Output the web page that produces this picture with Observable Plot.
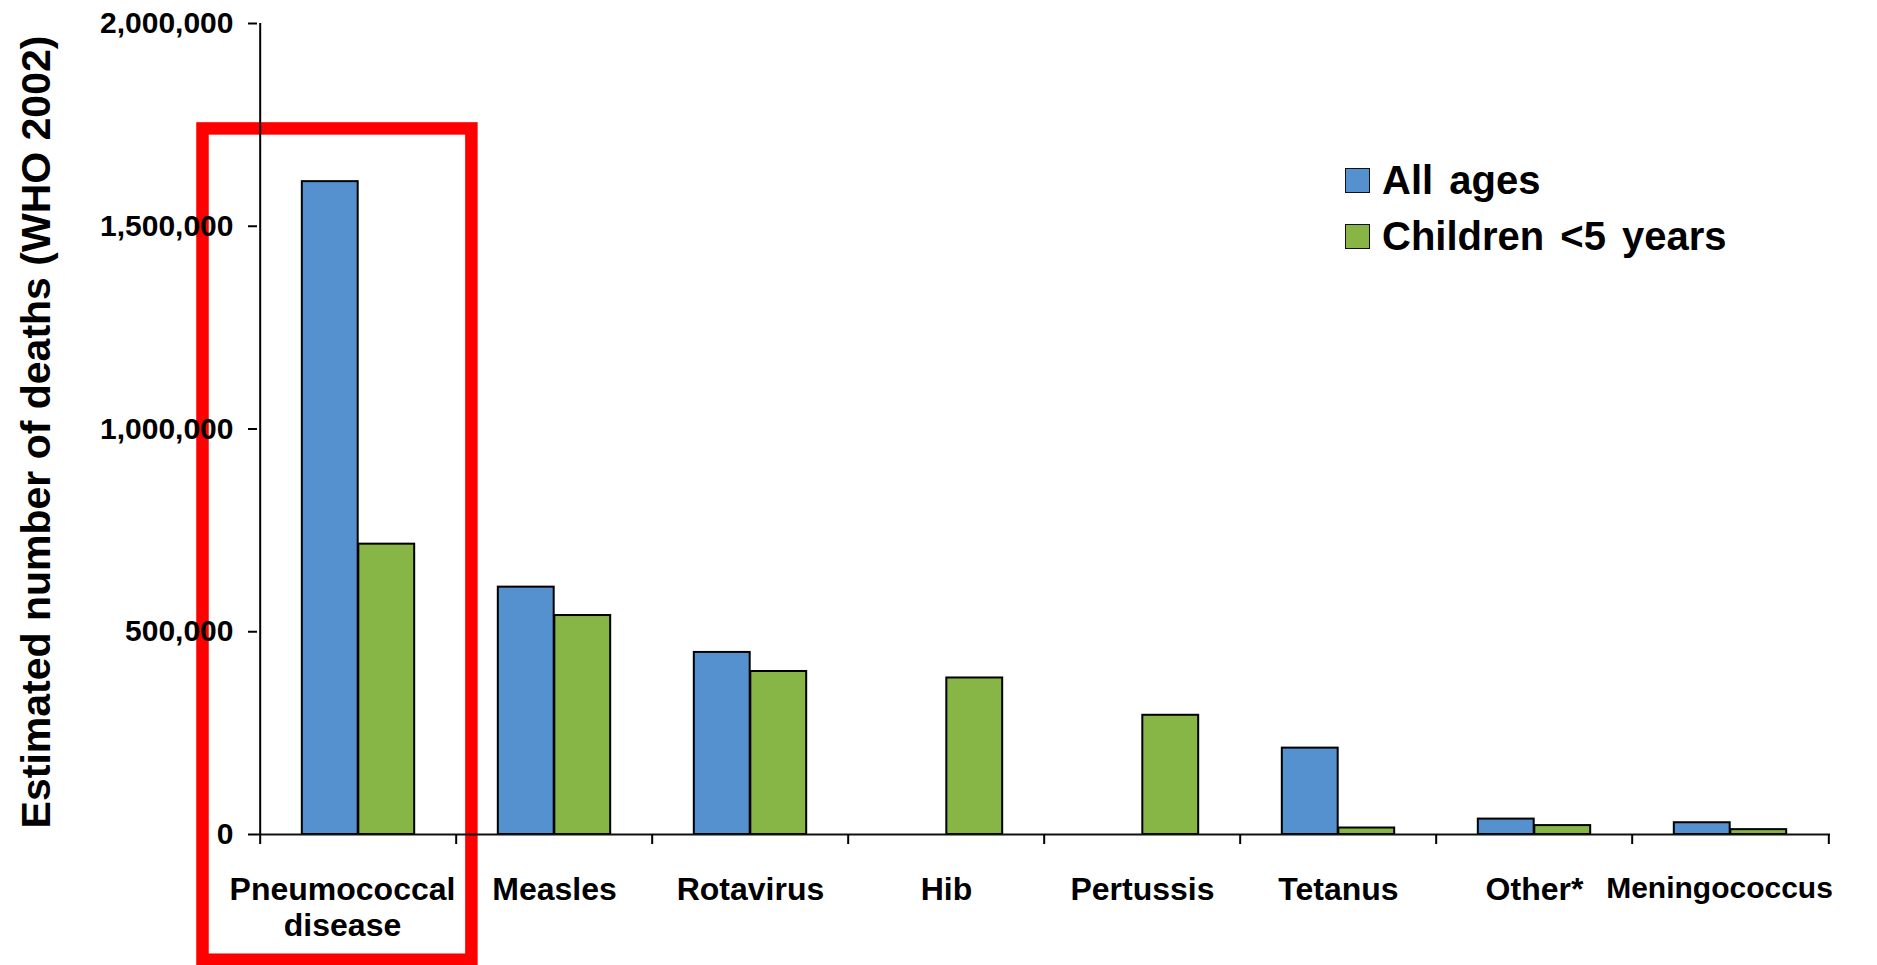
<!DOCTYPE html>
<html>
<head>
<meta charset="utf-8">
<script src="https://cdn.jsdelivr.net/npm/d3@7"></script>
<script src="https://cdn.jsdelivr.net/npm/@observablehq/plot@0.6"></script>
<style>
  html, body { margin: 0; padding: 0; background: #fff; }
  #chart { position: relative; width: 1877px; height: 965px; font-family: "Liberation Sans", Arial, sans-serif; }
  .legend { position: absolute; left: 1345px; top: 152px; }
  .legend .row { display: flex; align-items: center; height: 56px; }
  .legend .sw { width: 23px; height: 23px; border: 1.5px solid #111; margin-right: 12px; box-sizing: content-box; }
  .legend .lb { font-size: 40px; font-weight: bold; color: #000; white-space: nowrap; word-spacing: 5px; }
</style>
</head>
<body>
<div id="chart"></div>
<script>
// Vaccine-preventable deaths, WHO 2002 estimates
const categories = ["Pneumococcal disease", "Measles", "Rotavirus", "Hib", "Pertussis", "Tetanus", "Other*", "Meningococcus"];
const tickLabels = ["Pneumococcal\ndisease", "Measles", "Rotavirus", "Hib", "Pertussis", "Tetanus", "Other*", "Meningococcus"];
const series = ["All ages", "Children <5 years"];
const allAges = [1610000, 610000, 449000, null, null, 213000, 38000, 29000];
const childrenUnder5 = [716000, 540000, 402000, 386000, 294000, 16000, 22000, 12000];
const seriesColors = ["#5590cf", "#87b546"];
const yTicks = [0, 500000, 1000000, 1500000, 2000000];

const rows = categories.flatMap((category, i) => [
  {category, series: series[0], value: allAges[i]},
  {category, series: series[1], value: childrenUnder5[i]}
]).filter(d => d.value != null);

// Highlight frame around the first category (extent in data units)
const highlight = [{category: categories[0], from: -310000, to: 1740000}];

const W = 1877, H = 965;
const marginLeft = 257, marginRight = 47, marginTop = 23, marginBottom = 131;
const bw = (W - marginLeft - marginRight) / categories.length; // band width
const barW = 56.5;
const half = bw / 2;
const fmt = d3.format(",");
const label = d => tickLabels[categories.indexOf(d)];
const first = categories[0];
const last = categories[categories.length - 1];
const middle = categories.slice(1, -1);

const xLabelStyle = {tickSize: 0, tickPadding: 39, tickFormat: label, lineHeight: 1.15, label: null};

const chart = Plot.plot({
  width: W,
  height: H,
  marginLeft, marginRight, marginTop, marginBottom,
  style: {fontFamily: "'Liberation Sans', Arial, sans-serif", fontWeight: "bold", fontSize: "30px", color: "#000", background: "#fff"},
  x: {type: "band", domain: categories, padding: 0, label: null},
  y: {domain: [0, 2000000], label: null},
  color: {domain: series, range: seriesColors},
  marks: [
    Plot.barY(highlight, {x: "category", y1: "from", y2: "to", fill: "none", stroke: "#ff0000", strokeWidth: 12.5,
      insetLeft: -57.5, insetRight: -15.4}),
    Plot.barY(rows.filter(d => d.series === series[0]), {x: "category", y: "value", fill: "series",
      stroke: "#000", strokeWidth: 2, insetLeft: half - barW, insetRight: half}),
    Plot.barY(rows.filter(d => d.series === series[1]), {x: "category", y: "value", fill: "series",
      stroke: "#000", strokeWidth: 2, insetLeft: half, insetRight: half - barW}),
    Plot.ruleY([0], {stroke: "#111", strokeWidth: 2}),
    Plot.ruleX([first], {x: d => d, y1: 0, y2: 2000000, dx: -half, stroke: "#000", strokeWidth: 2}),
    Plot.axisY({ticks: yTicks, tickSize: 9, tickPadding: 15, tickFormat: fmt, fontSize: 30, strokeWidth: 2, label: null}),
    // category labels; the long first and last labels sit slightly left of their band centres
    Plot.axisX({...xLabelStyle, ticks: middle, fontSize: 32}),
    Plot.axisX({...xLabelStyle, ticks: [first], fontSize: 32, dx: -16}),
    Plot.axisX({...xLabelStyle, ticks: [last], fontSize: 30, dx: -11}),
    // tick marks on the category boundaries
    Plot.axisX({tickSize: 10, tickFormat: () => "", dx: -half, strokeWidth: 2, label: null}),
    Plot.axisX({ticks: [last], tickSize: 10, tickFormat: () => "", dx: half, strokeWidth: 2, label: null}),
    Plot.text(["Estimated number of deaths (WHO 2002)"], {frameAnchor: "left", textAnchor: "middle", rotate: -90,
      dx: -221, dy: 3, fontSize: 41, fontWeight: "bold", fill: "#000"})
  ]
});

const root = document.getElementById("chart");
root.appendChild(chart);

// Legend
const legend = document.createElement("div");
legend.className = "legend";
series.forEach((name, i) => {
  const row = document.createElement("div");
  row.className = "row";
  const sw = document.createElement("div");
  sw.className = "sw";
  sw.style.background = seriesColors[i];
  const lb = document.createElement("div");
  lb.className = "lb";
  lb.textContent = name;
  row.appendChild(sw);
  row.appendChild(lb);
  legend.appendChild(row);
});
root.appendChild(legend);
</script>
</body>
</html>
